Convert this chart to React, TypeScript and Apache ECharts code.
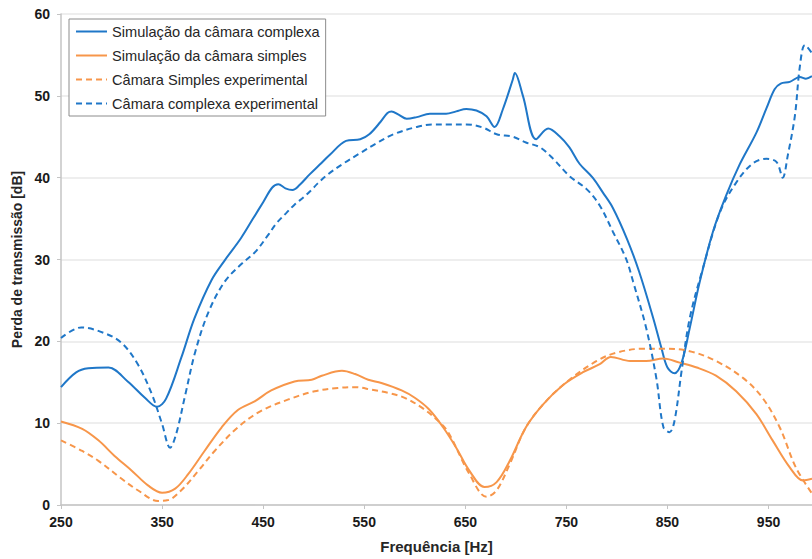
import React, { useEffect, useRef } from "react";
import * as echarts from "echarts";

const xTicks = [250, 350, 450, 550, 650, 750, 850, 950];

const complexSimFreq = [250, 265, 277, 297, 316, 333, 345, 354, 369, 382, 399, 412, 428, 440, 450, 459, 465, 472, 479, 486, 496, 506, 516, 532, 546, 555, 566, 573, 577, 584, 592, 602, 615, 631, 641, 651, 661, 671, 679, 687, 697, 699, 707, 720, 732, 743, 753, 763, 776, 786, 796, 810, 822, 836, 844, 850, 857, 864, 872, 882, 895, 908, 921, 938, 948, 956, 962, 971, 981, 987, 993];
const complexSimTL = [14.4, 16.2, 16.7, 16.8, 15.1, 13.1, 12.0, 13.0, 18.0, 22.8, 27.5, 29.9, 32.6, 35.0, 37.0, 38.8, 39.2, 38.7, 38.5, 39.1, 40.4, 41.6, 42.8, 44.5, 44.7, 45.3, 46.8, 47.9, 48.1, 47.7, 47.2, 47.4, 47.8, 47.8, 48.1, 48.4, 48.2, 47.5, 46.2, 48.3, 52.0, 52.8, 50.0, 44.7, 46.0, 45.1, 43.7, 41.7, 40.0, 38.2, 36.3, 32.5, 28.5, 22.8, 19.2, 16.8, 16.1, 17.4, 21.6, 27.3, 33.4, 37.8, 41.5, 45.5, 48.5, 50.8, 51.5, 51.7, 52.3, 52.1, 52.4];

const simpleSimFreq = [250, 271, 287, 303, 320, 336, 350, 363, 376, 392, 409, 425, 442, 458, 481, 498, 508, 528, 541, 554, 567, 587, 600, 614, 628, 641, 654, 669, 681, 694, 710, 727, 747, 766, 783, 794, 813, 829, 846, 862, 879, 898, 918, 938, 954, 971, 984, 993];
const simpleSimTL = [10.2, 9.3, 7.9, 6.0, 4.2, 2.4, 1.5, 2.0, 3.8, 6.6, 9.5, 11.6, 12.7, 14.0, 15.1, 15.3, 15.8, 16.4, 16.0, 15.3, 14.9, 14.0, 13.1, 11.7, 9.5, 7.0, 4.2, 2.2, 2.8, 5.4, 9.5, 12.3, 14.7, 16.2, 17.2, 18.1, 17.6, 17.6, 17.9, 17.4, 16.8, 15.8, 13.9, 11.1, 7.9, 4.6, 3.0, 3.2];

const simpleExpFreq = [250, 271, 287, 310, 326, 346, 356, 369, 386, 402, 425, 448, 475, 501, 524, 541, 557, 574, 590, 607, 623, 633, 654, 671, 681, 694, 710, 730, 753, 780, 799, 826, 846, 872, 898, 925, 944, 961, 977, 993];
const simpleExpTL = [7.9, 6.6, 5.4, 3.2, 1.8, 0.5, 0.6, 1.8, 4.2, 6.6, 9.5, 11.5, 12.9, 13.9, 14.3, 14.4, 14.1, 13.7, 13.1, 11.9, 10.3, 8.9, 3.8, 1.0, 1.8, 5.0, 9.5, 12.7, 15.3, 17.6, 18.6, 19.1, 19.1, 18.8, 17.6, 15.5, 13.1, 9.5, 4.6, 1.4];

const complexExpFreq = [250, 270, 293, 310, 326, 340, 350, 358, 364, 373, 383, 396, 412, 429, 442, 455, 463, 473, 481, 490, 497, 504, 514, 529, 546, 562, 579, 602, 618, 635, 651, 668, 681, 697, 710, 724, 737, 753, 770, 783, 796, 809, 816, 829, 839, 846, 852, 857, 864, 872, 885, 902, 918, 934, 948, 958, 964, 969, 976, 981, 986, 993];
const complexExpTL = [20.4, 21.7, 21.0, 19.8, 17.2, 13.5, 9.9, 7.0, 8.7, 13.5, 18.8, 23.6, 27.3, 29.5, 30.9, 33.0, 34.4, 35.7, 36.7, 37.6, 38.4, 39.3, 40.4, 41.7, 43.0, 44.2, 45.3, 46.2, 46.5, 46.5, 46.5, 46.1, 45.3, 45.0, 44.3, 43.7, 42.3, 40.2, 38.6, 36.6, 33.4, 30.1, 27.3, 21.6, 15.5, 9.5, 8.9, 10.3, 16.4, 22.8, 28.9, 35.8, 39.4, 41.7, 42.3, 41.9, 40.0, 42.7, 47.5, 53.6, 56.2, 55.2];

const seriesNames = [
  "Simulação da câmara complexa",
  "Simulação da câmara simples",
  "Câmara Simples experimental",
  "Câmara complexa experimental",
];

const BLUE = "#1f77c8";
const ORANGE = "#f7964a";
const FONT = "Liberation Sans, Arial, sans-serif";

const zip = (xs: number[], ys: number[]) => xs.map((x, i) => [x, ys[i]]);

export default function App() {
  const ref = useRef<HTMLDivElement>(null);
  useEffect(() => {
    document.body.style.margin = "0";
    const chart = echarts.init(ref.current!, null, { renderer: "svg" });
    const mk = (name: string, data: number[][], color: string, dashed: boolean) => ({
      name,
      type: "line",
      data,
      smooth: 0.35,
      symbol: "none",
      showSymbol: false,
      color,
      lineStyle: { color, width: 2, type: dashed ? [6, 4] : "solid" },
    });
    chart.setOption({
      animation: false,
      backgroundColor: "#ffffff",
      textStyle: { fontFamily: FONT },
      grid: { left: 61, right: 0, top: 14, bottom: 51, containLabel: false },
      legend: {
        orient: "vertical",
        left: 69,
        top: 19,
        padding: [5, 6, 5, 6],
        itemWidth: 31,
        itemHeight: 14,
        itemGap: 9,
        borderColor: "#8c8c8c",
        borderWidth: 1,
        backgroundColor: "#ffffff",
        itemStyle: { opacity: 0 },
        textStyle: { fontSize: 14.6, color: "#262626", fontFamily: FONT },
        data: seriesNames,
      },
      xAxis: {
        type: "value",
        min: 250,
        max: 993,
        interval: 100,
        name: "Frequência [Hz]",
        nameLocation: "middle",
        nameGap: 34,
        nameTextStyle: { fontSize: 15, fontWeight: "bold", color: "#262626", fontFamily: FONT },
        axisLine: { show: true, lineStyle: { color: "#c4c4c4", width: 1.5 } },
        axisTick: { show: true, length: 4, lineStyle: { color: "#c4c4c4" }, customValues: xTicks },
        axisLabel: {
          fontSize: 14,
          fontWeight: "bold",
          color: "#1a1a1a",
          margin: 10,
          customValues: xTicks,
          fontFamily: FONT,
        },
        splitLine: { show: false },
      },
      yAxis: {
        type: "value",
        min: 0,
        max: 60,
        interval: 10,
        name: "Perda de transmissão [dB]",
        nameLocation: "middle",
        nameGap: 35,
        nameRotate: 90,
        nameTextStyle: { fontSize: 14, fontWeight: "bold", color: "#262626", fontFamily: FONT },
        axisLine: { show: true, lineStyle: { color: "#c4c4c4", width: 1.5 } },
        axisTick: { show: true, length: 4, lineStyle: { color: "#c4c4c4" } },
        axisLabel: { fontSize: 14, fontWeight: "bold", color: "#1a1a1a", margin: 11, fontFamily: FONT },
        splitLine: { show: true, lineStyle: { color: "#e8e8e8", width: 1.5 } },
      },
      series: [
        mk(seriesNames[0], zip(complexSimFreq, complexSimTL), BLUE, false),
        mk(seriesNames[1], zip(simpleSimFreq, simpleSimTL), ORANGE, false),
        mk(seriesNames[2], zip(simpleExpFreq, simpleExpTL), ORANGE, true),
        mk(seriesNames[3], zip(complexExpFreq, complexExpTL), BLUE, true),
      ],
    });
    return () => chart.dispose();
  }, []);
  return <div ref={ref} style={{ width: 812, height: 559 }} />;
}
